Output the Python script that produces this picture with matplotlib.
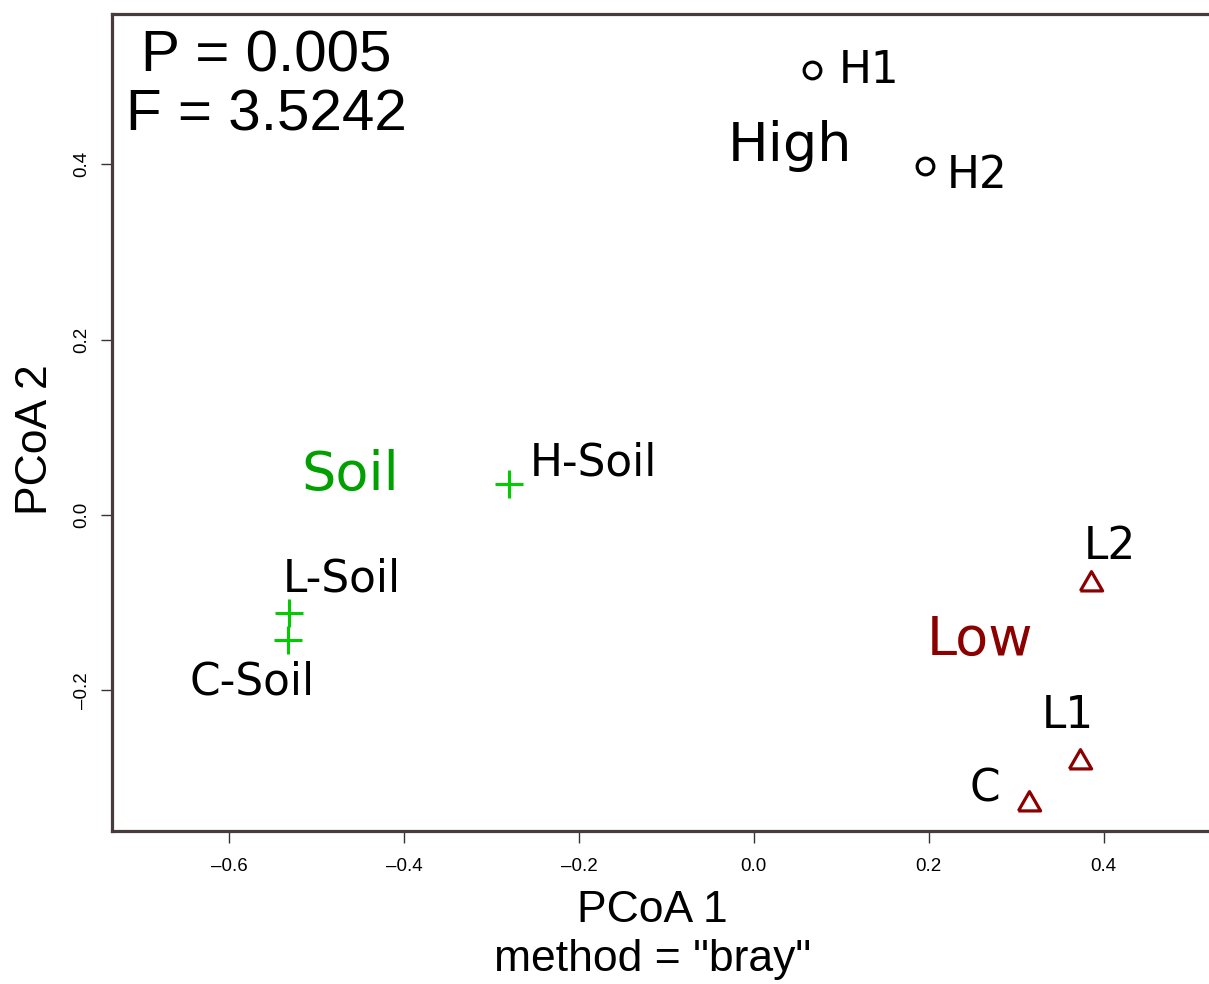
import matplotlib
matplotlib.use("Agg")
import matplotlib.pyplot as plt
from matplotlib.markers import MarkerStyle

# PCoA site scores (Bray-Curtis)
high_names = ["H1", "H2"]
high_x = [0.066, 0.196]
high_y = [0.507, 0.398]

soil_names = ["H-Soil", "L-Soil", "C-Soil"]
soil_x = [-0.280, -0.531, -0.533]
soil_y = [0.035, -0.112, -0.143]

low_names = ["L2", "L1", "C"]
low_x = [0.385, 0.373, 0.314]
low_y = [-0.079, -0.282, -0.330]

x_ticks = [-0.6, -0.4, -0.2, 0.0, 0.2, 0.4]
y_ticks = [-0.2, 0.0, 0.2, 0.4]

p_value = 0.005
f_value = 3.5242

DPI = 100
PX = 72.0 / DPI  # pixels -> points

fig = plt.figure(figsize=(12.09, 9.84), dpi=DPI)
W, H = 1209, 984
left_px, right_px, top_px, bottom_px = 111.5, 1235, 14, 830.5
ax = fig.add_axes([left_px / W, 1 - bottom_px / H,
                   (right_px - left_px) / W, (bottom_px - top_px) / H])
ax.set_xlim(-0.7343, 0.55)
ax.set_ylim(-0.3597, 0.5711)

frame_col = "#473b3b"
for side, sp in ax.spines.items():
    sp.set_color(frame_col)
    sp.set_linewidth(2.3)

sans = "Liberation Sans"
ax.set_xticks(x_ticks)
ax.set_yticks(y_ticks)
ax.set_xticklabels([f"{v:.1f}".replace("-", "\u2013") for v in x_ticks],
                   fontfamily=sans, fontsize=13.5)
ax.set_yticklabels([f"{v:.1f}".replace("-", "\u2013") for v in y_ticks],
                   fontfamily=sans, fontsize=13.5, rotation=90, va="center")
ax.tick_params(axis="x", length=8.5, width=1.0, color="#333333", pad=11)
ax.tick_params(axis="y", length=8, width=1.0, color="#333333", pad=7)

# equilateral triangle (centroid at origin)
tri = MarkerStyle([(-1, -0.5774), (1, -0.5774), (0, 1.1547), (-1, -0.5774)])

ax.plot(high_x, high_y, linestyle="none", marker="o", ms=12, mfc="none",
        mec="black", mew=2.3, zorder=3)
ax.plot(soil_x, soil_y, linestyle="none", marker="+", ms=19.5,
        mec="#00cc00", mew=2.2, zorder=3)
ax.plot(low_x, low_y, linestyle="none", marker=tri, ms=18.5, mfc="none",
        mec="#8b0000", mew=2.3, zorder=3)

# sample labels: offsets (px) from each point to label centre/baseline
label_offsets = {
    "H1": (57.8, -12.3), "H2": (52.3, -22.6),
    "H-Soil": (84.5, 8.6), "L-Soil": (52.0, 21.6), "C-Soil": (-36.0, -54.0),
    "L2": (19.0, 25.7), "L1": (-12.5, 34.4), "C": (-43.5, 3.0),
}
for names, xs, ys in [(high_names, high_x, high_y),
                      (soil_names, soil_x, soil_y),
                      (low_names, low_x, low_y)]:
    for n, x, y in zip(names, xs, ys):
        dx, dy = label_offsets[n]
        ax.annotate(n, (x, y), xytext=(dx * PX, dy * PX),
                    textcoords="offset points", ha="center", va="baseline",
                    fontsize=31.5, color="black", family="DejaVu Sans")

# group labels
ax.text(0.0408, 0.4038, "High", ha="center", va="baseline", fontsize=39,
        color="black", family="DejaVu Sans")
ax.text(-0.4617, 0.0282, "Soil", ha="center", va="baseline", fontsize=39,
        color="#00a000", family="DejaVu Sans")
ax.text(0.2583, -0.1600, "Low", ha="center", va="baseline", fontsize=39,
        color="#8b0000", family="DejaVu Sans")

# PERMANOVA result
ax.text(-0.5571, 0.5053, f"P = {p_value:.3f}", ha="center", va="baseline",
        fontsize=42, family=sans)
ax.text(-0.5571, 0.4388, f"F = {f_value:.4f}", ha="center", va="baseline",
        fontsize=42, family=sans)

# axis titles
fig.text(652.8 / W, 1 - 922.5 / H, "PCoA 1", ha="center", va="baseline",
         fontsize=32, family=sans)
fig.text(653 / W, 1 - 971.5 / H, 'method = "bray"', ha="center",
         va="baseline", fontsize=32, family=sans)
fig.text(47 / W, 1 - 440 / H, "PCoA 2", ha="center", va="baseline",
         rotation=90, rotation_mode="anchor", fontsize=32, family=sans)

fig.savefig("out.png", dpi=DPI, facecolor="white")
